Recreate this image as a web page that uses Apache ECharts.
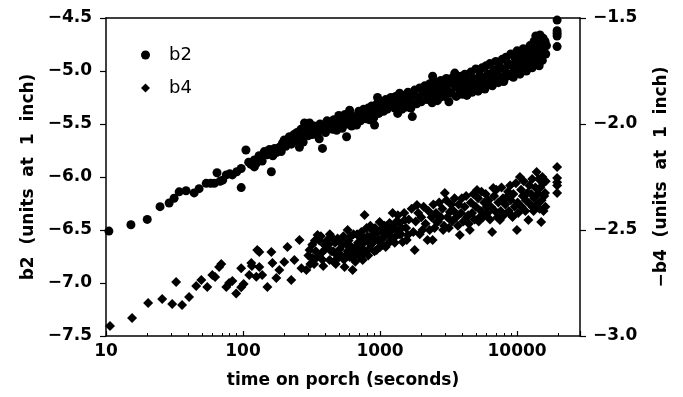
<!DOCTYPE html>
<html>
<head>
<meta charset="utf-8">
<script src="https://cdn.jsdelivr.net/npm/echarts@6/dist/echarts.min.js"></script>
<style>
html,body{margin:0;padding:0;background:#fff;}
#chart{width:683px;height:397px;}
</style>
</head>
<body>
<div id="chart"></div>
<script>
// ---- data ----
const b2Time = [
  10.5,15.2,20,24.8,28.9,31.4,34.2,38.4,44,47.8,53.9,58,61.7,64.6,68,71,75.5,80,83.6,90,97,97,105,110,114,121,125,
  121,143,161,175,194,229,281,306,290,258,344,380,428,482,570,600,674,771,839,912,959,1044,1236,1390,1345,1566,
  131,138,150,156,165,170,184,190,200,205,212,218,225,235,240,248,255,265,270,275,285,295,300,315,320,330,340,350,360,365,370,390,400,410,420,440,450,460,470,490,500,510,520,530,545,555,580,590,610,620,640,650,690,700,720,740,760,790,800,820,850,870,880,900,930,950,980,1000,1020,1060,1080,1100,1130,1160,1200,1260,1280,1300,1330,1420,1450,1480,1520,1600,
  1391,1420,1450,1480,1510,1600,1646,1680,1720,1700,
  1790,1850,1900,1949,2000,2050,2120,2200,2250,2306,2350,2400,2420,2450,
  2508,2560,2620,2680,2729,2780,2850,2900,2969,3050,3100,3180,3229,3300,3400,
  3513,3550,3600,3700,3822,3900,3980,4050,4158,4200,4300,4400,4523,4600,4700,4800,4920,
  5000,5100,5200,5353,5450,5550,5650,5823,5950,6100,6200,6335,6450,6600,6750,6891,
  7000,7150,7300,7497,7650,7800,8000,8155,8300,8450,8600,8872,9000,9200,9400,9652,
  9800,10000,10200,10500,10700,10900,11100,11420,11700,11900,12100,12430,12700,12900,13100,13300,
  13520,13700,13900,14100,14300,14500,14710,14900,15100,15300,15500,15700,16000,16200,16400,
  19600,19600,19600,19600,19600
];
const b2Value = [
  -6.51,-6.45,-6.40,-6.28,-6.245,-6.20,-6.14,-6.13,-6.15,-6.11,-6.06,-6.06,-6.06,-5.96,-6.04,-6.03,-5.98,-5.97,-5.98,-5.95,-5.92,-6.10,-5.745,-5.86,-5.88,-5.905,-5.87,
  -5.84,-5.76,-5.95,-5.77,-5.68,-5.63,-5.49,-5.49,-5.57,-5.72,-5.60,-5.73,-5.48,-5.56,-5.62,-5.37,-5.51,-5.40,-5.46,-5.51,-5.25,-5.35,-5.32,-5.21,-5.40,-5.34,
  -5.80,-5.85,-5.79,-5.74,-5.80,-5.73,-5.72,-5.76,-5.65,-5.71,-5.67,-5.62,-5.69,-5.60,-5.66,-5.58,-5.63,-5.55,-5.62,-5.67,-5.58,-5.53,-5.61,-5.55,-5.60,-5.52,-5.57,-5.53,-5.64,-5.50,-5.56,-5.52,-5.58,-5.47,-5.54,-5.50,-5.55,-5.46,-5.52,-5.48,-5.42,-5.51,-5.45,-5.54,-5.47,-5.41,-5.50,-5.44,-5.46,-5.52,-5.43,-5.48,-5.44,-5.38,-5.47,-5.42,-5.36,-5.45,-5.39,-5.35,-5.41,-5.33,-5.38,-5.44,-5.36,-5.31,-5.40,-5.34,-5.29,-5.38,-5.31,-5.27,-5.36,-5.30,-5.25,-5.28,-5.35,-5.24,-5.30,-5.27,-5.33,-5.23,-5.29,-5.26,
  -5.22,-5.30,-5.36,-5.26,-5.33,-5.20,-5.28,-5.35,-5.43,-5.24,
  -5.18,-5.31,-5.25,-5.16,-5.29,-5.21,-5.14,-5.27,-5.20,-5.12,-5.24,-5.30,-5.05,-5.17,
  -5.10,-5.22,-5.28,-5.15,-5.25,-5.09,-5.19,-5.13,-5.24,-5.07,-5.18,-5.29,-5.11,-5.21,-5.06,
  -5.02,-5.15,-5.24,-5.09,-5.18,-5.05,-5.22,-5.12,-5.03,-5.17,-5.23,-5.09,-5.14,-5.01,-5.20,-5.07,-5.16,
  -4.98,-5.11,-5.19,-5.04,-5.14,-4.97,-5.09,-5.17,-4.95,-5.03,-5.12,-4.93,-5.06,-5.14,-4.99,-5.09,
  -4.91,-5.02,-5.11,-4.96,-5.06,-4.89,-5.10,-4.99,-4.87,-5.05,-4.93,-5.03,-4.84,-4.95,-5.06,-4.88,
  -4.99,-4.81,-4.92,-5.03,-4.86,-4.97,-4.79,-4.90,-5.00,-4.83,-4.94,-4.76,-4.87,-4.97,-4.81,-4.72,
  -4.92,-4.67,-4.78,-4.86,-4.70,-4.95,-4.66,-4.74,-4.83,-4.90,-4.69,-4.78,-4.72,-4.84,-4.76,
  -4.52,-4.62,-4.645,-4.67,-4.77
];
const b4Time = [
  10.7,15.5,20.3,25.7,30.4,32.5,35.9,40.4,45.5,49.6,54.8,59.7,62.6,66.9,69.4,75.5,79.2,83.6,89.2,97,97,101,111,116,125,127,
  115,131.5,131.5,138,150.6,161,164,175,184,200,211,225,237,258,267,290,306,321,350,374,393,428,450,482,524,551,580,600,631,674,710,747,771,798,839,883,944,993,1028,1044,1117,1175,1236,1322,1390,1462,1514,1592,
  300,320,330,340,360,380,400,410,440,460,470,490,500,510,540,560,570,590,620,640,650,660,690,700,720,730,760,780,810,820,850,860,900,920,960,970,1000,1050,1080,1100,1150,1200,1260,1300,1350,1420,
  310,335,345,370,385,420,430,455,475,520,530,545,580,610,630,665,680,710,740,770,790,830,870,880,910,940,990,1010,1040,1070,1130,1160,1220,1280,1320,1380,1440,
  1566,1791,1860,2040,2220,2420,2590,2890,2969,3229,3822,4320,4523,5100,5353,6000,6580,6700,7497,8400,9270,9980,10500,11900,12100,13000,13900,15000,15300,16000,
  1500,1550,1620,1700,1750,1820,1900,1950,2000,2080,2150,2260,2300,2380,2450,2500,2560,2650,2700,2780,2850,2930,3050,3100,3180,3300,3350,3450,3500,3600,3700,3750,3900,3950,4050,4150,4250,4400,4450,4600,4700,4800,4900,5000,5200,5250,5450,5500,5650,5750,5900,6100,6200,6350,6450,6800,6900,7050,7200,7300,7600,7700,7900,8000,8200,8600,8700,8900,9000,9100,9400,9600,9800,10100,10200,10700,10800,11000,11200,11500,11600,12300,12500,12700,12900,13200,13300,13600,14000,14200,14400,14600,14800,15100,15500,15600,15800,16100,16200,
  19600,19600,19600,19600,19600
];
const b4Value = [
  -2.953,-2.915,-2.844,-2.825,-2.849,-2.745,-2.854,-2.816,-2.764,-2.736,-2.769,-2.712,-2.722,-2.675,-2.660,-2.769,-2.75,-2.74,-2.80,-2.68,-2.77,-2.755,-2.712,-2.67,-2.72,-2.594,
  -2.656,-2.675,-2.604,-2.712,-2.769,-2.604,-2.656,-2.726,-2.689,-2.651,-2.58,-2.736,-2.641,-2.547,-2.68,-2.689,-2.594,-2.632,-2.524,-2.608,-2.571,-2.641,-2.538,-2.618,-2.561,-2.675,-2.50,-2.627,-2.689,-2.594,-2.533,-2.641,-2.429,-2.491,-2.561,-2.524,-2.594,-2.462,-2.571,-2.50,-2.514,-2.467,-2.42,-2.50,-2.467,-2.557,-2.453,-2.524,
  -2.62,-2.57,-2.66,-2.60,-2.55,-2.64,-2.59,-2.55,-2.60,-2.65,-2.56,-2.54,-2.63,-2.59,-2.53,-2.62,-2.57,-2.55,-2.58,-2.52,-2.61,-2.65,-2.56,-2.62,-2.58,-2.51,-2.56,-2.60,-2.53,-2.62,-2.48,-2.57,-2.54,-2.49,-2.55,-2.51,-2.58,-2.54,-2.48,-2.58,-2.52,-2.55,-2.49,-2.53,-2.43,-2.52,
  -2.66,-2.55,-2.63,-2.53,-2.67,-2.57,-2.52,-2.60,-2.66,-2.62,-2.57,-2.64,-2.60,-2.53,-2.63,-2.58,-2.52,-2.60,-2.53,-2.61,-2.55,-2.59,-2.50,-2.56,-2.60,-2.51,-2.55,-2.50,-2.57,-2.53,-2.48,-2.56,-2.50,-2.56,-2.46,-2.52,-2.49,
  -2.547,-2.594,-2.382,-2.50,-2.547,-2.547,-2.462,-2.50,-2.325,-2.415,-2.524,-2.439,-2.50,-2.311,-2.439,-2.392,-2.509,-2.302,-2.453,-2.344,-2.439,-2.50,-2.25,-2.325,-2.453,-2.392,-2.226,-2.462,-2.25,-2.325,
  -2.42,-2.49,-2.45,-2.40,-2.51,-2.46,-2.42,-2.52,-2.44,-2.39,-2.47,-2.41,-2.50,-2.44,-2.38,-2.49,-2.42,-2.46,-2.37,-2.44,-2.40,-2.48,-2.36,-2.44,-2.49,-2.38,-2.46,-2.41,-2.35,-2.44,-2.48,-2.38,-2.42,-2.35,-2.46,-2.39,-2.34,-2.43,-2.47,-2.37,-2.42,-2.33,-2.45,-2.39,-2.35,-2.46,-2.41,-2.32,-2.44,-2.37,-2.33,-2.42,-2.36,-2.45,-2.39,-2.34,-2.41,-2.31,-2.44,-2.37,-2.41,-2.30,-2.35,-2.43,-2.38,-2.32,-2.41,-2.29,-2.36,-2.43,-2.33,-2.39,-2.28,-2.37,-2.42,-2.31,-2.39,-2.34,-2.27,-2.41,-2.36,-2.29,-2.38,-2.33,-2.26,-2.41,-2.35,-2.30,-2.38,-2.33,-2.26,-2.40,-2.30,-2.36,-2.28,-2.41,-2.34,-2.39,-2.27,
  -2.203,-2.255,-2.275,-2.29,-2.325
];
const seriesNames = ['b2', 'b4'];
const xTickLabels = [10, 100, 1000, 10000];
const xTitle = 'time on porch (seconds)';
const leftTitle = 'b2  (units  at  1  inch)';
const rightTitle = '\u2212b4  (units  at  1  inch)';

// ---- chart ----
const FONT = 'DejaVu Sans';
const txt = {color:'#000', fontSize:17, fontWeight:'bold', fontFamily:FONT};
const zip = (a, b) => a.map((v, i) => [v, b[i]]);
const fmtY = v => (v < 0 ? '\u2212' : '') + Math.abs(v).toFixed(1);
const line = {show:true, lineStyle:{color:'#000', width:1.5}};

const chart = echarts.init(document.getElementById('chart'), null, {renderer:'canvas'});
chart.setOption({
  animation:false,
  backgroundColor:'#fff',
  grid:{left:106, right:103, top:18, bottom:61, containLabel:false},
  legend:{
    orient:'vertical', left:136, top:41, itemGap:15, itemWidth:9, itemHeight:9,
    data:[{name:seriesNames[0], icon:'circle'}, {name:seriesNames[1], icon:'diamond'}],
    textStyle:{color:'#000', fontSize:18, fontFamily:FONT, padding:[0,0,0,14]}
  },
  xAxis:[{
    type:'log', logBase:10, min:10, max:28800, position:'bottom',
    axisLine:line,
    axisTick:{show:true, inside:true, length:5, lineStyle:{color:'#000', width:1.2}},
    minorTick:{show:true, splitNumber:9, length:3, lineStyle:{color:'#000', width:1}},
    axisLabel:Object.assign({margin:7, showMaxLabel:false,
      formatter:v => xTickLabels.indexOf(Math.round(v)) >= 0 ? String(Math.round(v)) : ''}, txt),
    splitLine:{show:false},
    name:xTitle, nameLocation:'middle', nameGap:36, nameTextStyle:txt
  },{
    type:'log', logBase:10, min:10, max:28800, position:'top',
    axisLine:line, axisTick:{show:false}, axisLabel:{show:false}, splitLine:{show:false}
  }],
  yAxis:[{
    type:'value', min:-7.5, max:-4.5, interval:0.5, position:'left',
    axisLine:line,
    axisTick:{show:true, inside:false, length:6, lineStyle:{color:'#000', width:1.2}},
    axisLabel:Object.assign({margin:14, formatter:fmtY}, txt),
    splitLine:{show:false},
    name:leftTitle, nameLocation:'middle', nameRotate:90, nameGap:68, nameTextStyle:txt
  },{
    type:'value', min:-3.0, max:-1.5, interval:0.5, position:'right',
    axisLine:line,
    axisTick:{show:true, inside:false, length:6, lineStyle:{color:'#000', width:1.2}},
    axisLabel:Object.assign({margin:13, formatter:fmtY}, txt),
    splitLine:{show:false},
    name:rightTitle, nameLocation:'middle', nameRotate:90, nameGap:73, nameTextStyle:txt
  }],
  series:[{
    name:seriesNames[0], type:'scatter', xAxisIndex:0, yAxisIndex:0,
    symbol:'circle', symbolSize:9, itemStyle:{color:'#000', opacity:1},
    data:zip(b2Time, b2Value)
  },{
    name:seriesNames[1], type:'scatter', xAxisIndex:0, yAxisIndex:1,
    symbol:'diamond', symbolSize:10, itemStyle:{color:'#000', opacity:1},
    data:zip(b4Time, b4Value)
  }]
});
</script>
</body>
</html>
